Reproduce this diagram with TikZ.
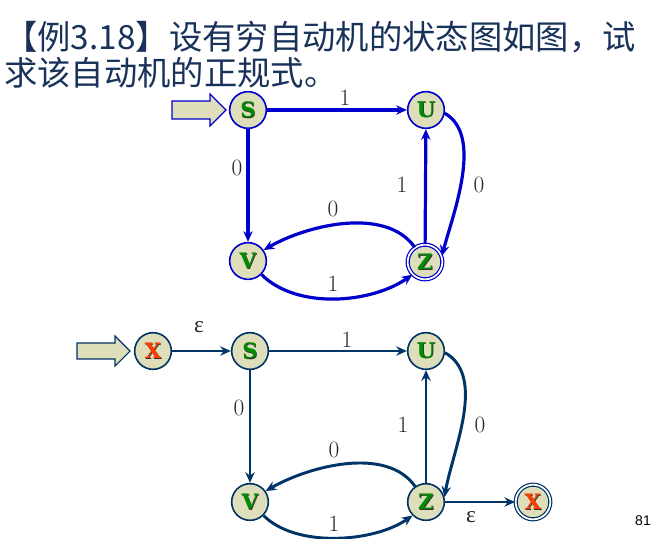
\documentclass[tikz,border=0pt]{standalone}
\usepackage{fontspec}
\newfontfamily\cjk{Noto Sans CJK SC}
\newfontfamily\letfont{DejaVu Serif}
\newfontfamily\pgfont{Liberation Sans}
\newfontfamily\epsfont{Liberation Serif}
\usetikzlibrary{arrows.meta}
\definecolor{beige}{RGB}{222,222,186}
\definecolor{tblue}{RGB}{0,0,204}
\definecolor{navy}{RGB}{0,51,102}
\definecolor{lgreen}{RGB}{0,140,0}
\definecolor{lred}{RGB}{255,60,0}
\definecolor{titlec}{RGB}{25,50,90}
\newcommand{\lett}[2]{{\letfont\bfseries\fontsize{16}{16}\selectfont\rlap{\hspace{0.45pt}\raisebox{-0.45pt}{\textcolor{black!80}{#2}}}\textcolor{#1}{#2}}}
\tikzset{
  st/.style={circle, fill=beige, draw=#1, line width=1.2pt, minimum size=27.5pt, inner sep=0pt},
  dst/.style={circle, fill=beige, draw=#1, double=white, line width=0.9pt, double distance=1.3pt, minimum size=26pt, inner sep=0pt},
  te/.style={draw=tblue, line width=2.4pt, -{Stealth[length=8pt,width=7pt]}},
  be/.style={draw=navy, line width=2.2pt, -{Stealth[length=8pt,width=7pt]}},
  lab/.style={font=\fontsize{17.5}{17.5}\selectfont, text=black!85, inner sep=0pt},
  inarrow/.style={fill=beige, draw=#1, line width=0.8pt}
}
\begin{document}
\begin{tikzpicture}[x=0.75pt,y=0.75pt]
\useasboundingbox (0,0) rectangle (664,-539);
% title
\node[anchor=west, inner sep=0pt, text=titlec, font=\cjk\fontsize{25}{25}\selectfont] (t1) at (4,-37) {【例3.18】设有穷自动机的状态图如图，试};
\node[anchor=west, inner sep=0pt, text=titlec, font=\cjk\fontsize{25}{25}\selectfont] (t2) at (4,-73) {求该自动机的正规式。};
% top diagram
\node[st=tblue] (tS) at (248,-110) {\lett{lgreen}{S}};
\node[st=tblue] (tU) at (426,-110) {\lett{lgreen}{U}};
\node[st=tblue] (tV) at (248,-261) {\lett{lgreen}{V}};
\node[dst=tblue] (tZ) at (425,-262) {\lett{lgreen}{Z}};
\draw[inarrow=tblue] (172,-101) -- (210,-101) -- (210,-94) -- (226,-110) -- (210,-126) -- (210,-119) -- (172,-119) -- cycle;
\draw[te] (tS) -- (tU);
\draw[te] (tS) -- (tV);
\draw[te] (tZ) -- (tU);
\draw[te] (tU.-10) to[out=-30,in=75,looseness=0.8] (tZ.20);
\draw[te] (tZ.125) to[out=125,in=30,looseness=0.85] (tV.35);
\draw[te] (tV.-45) to[out=-45,in=-145,looseness=0.85] (tZ.-135);
\node[lab] (l1) at (345,-98) {1};
\node[lab] (l2) at (237,-168) {0};
\node[lab] (l3) at (402,-185) {1};
\node[lab] (l4) at (479,-185) {0};
\node[lab] (l5) at (333,-209) {0};
\node[lab] (l6) at (333,-284) {1};
% bottom diagram
\node[st=navy] (bX) at (153,-351) {\lett{lred}{X}};
\node[st=navy] (bS) at (250,-351) {\lett{lgreen}{S}};
\node[st=navy] (bU) at (426,-351) {\lett{lgreen}{U}};
\node[st=navy] (bV) at (250,-502) {\lett{lgreen}{V}};
\node[st=navy] (bZ) at (426,-502) {\lett{lgreen}{Z}};
\node[dst=navy] (bF) at (533,-502) {\lett{lred}{X}};
\draw[inarrow=navy] (77,-343) -- (115,-343) -- (115,-336) -- (130,-351) -- (115,-366) -- (115,-359) -- (77,-359) -- cycle;
\draw[be] (bX) -- (bS);
\draw[be] (bS) -- (bU);
\draw[be] (bS) -- (bV);
\draw[be] (bZ) -- (bU);
\draw[be] (bU.-5) to[out=-30,in=80,looseness=0.85] (bZ.15);
\draw[be] (bZ.125) to[out=125,in=30,looseness=0.85] (bV.35);
\draw[be] (bV.-45) to[out=-45,in=-145,looseness=0.8] (bZ.-135);
\draw[be] (bZ) -- (bF);
\node[lab, font=\epsfont\fontsize{17.5}{17.5}\selectfont] (m0) at (199,-327) {ε};
\node[lab] (m1) at (347,-340) {1};
\node[lab] (m2) at (239,-408) {0};
\node[lab] (m3) at (403,-425) {1};
\node[lab] (m4) at (480,-425) {0};
\node[lab] (m5) at (334,-450) {0};
\node[lab] (m6) at (334,-524) {1};
\node[lab, font=\epsfont\fontsize{17.5}{17.5}\selectfont] (m7) at (471,-517) {ε};
\node[inner sep=0pt, font=\pgfont\fontsize{10.5}{10.5}\selectfont] (pg) at (643,-521) {81};
\end{tikzpicture}
\end{document}
